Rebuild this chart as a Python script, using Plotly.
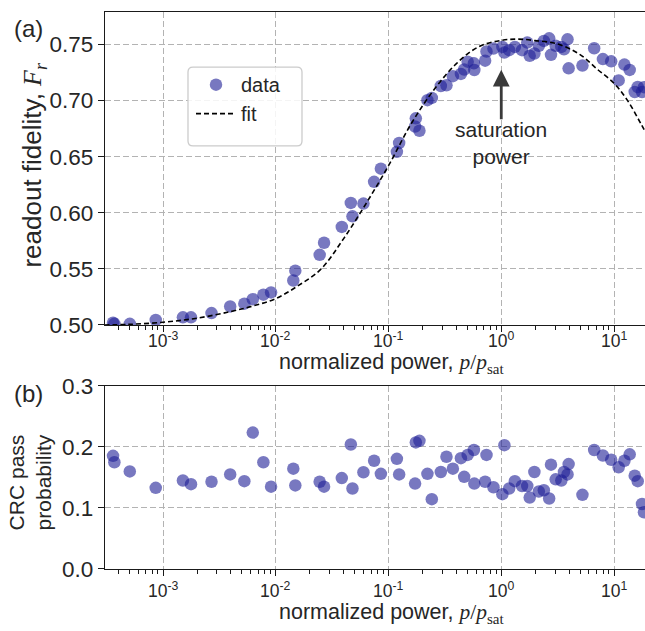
import math
import plotly.graph_objects as go

# ---- data ----
power = [3.60e-4, 3.70e-4, 5.07e-4, 8.61e-4, 1.50e-3, 1.77e-3, 2.69e-3, 3.94e-3,
         5.26e-3, 6.25e-3, 7.76e-3, 9.08e-3, 1.43e-2, 1.49e-2, 2.45e-2, 2.68e-2,
         3.85e-2, 4.63e-2, 4.79e-2, 5.99e-2, 7.45e-2, 8.55e-2, 0.1186, 0.1242,
         0.172, 0.1746, 0.188, 0.2213, 0.2421, 0.2911, 0.3266, 0.3722,
         0.4387, 0.469, 0.5035, 0.5715, 0.5768, 0.7194, 0.7396, 0.8531,
         1.023, 1.066, 1.175, 1.32, 1.528, 1.70, 1.787, 1.967,
         2.155, 2.387, 2.661, 2.761, 3.04, 3.41, 3.60, 3.87,
         3.96, 5.25, 6.67, 7.97, 9.44, 11.0, 12.37, 13.78,
         15.27, 16.23, 17.72, 18.45]

fidelity = [0.502, 0.501, 0.501, 0.5044, 0.5068, 0.5068, 0.5106, 0.5165,
            0.519, 0.523, 0.527, 0.529, 0.5396, 0.5484, 0.5625, 0.5733,
            0.5874, 0.6088, 0.5968, 0.6082, 0.6276, 0.6393, 0.6543, 0.6622,
            0.6769, 0.6842, 0.6731, 0.7004, 0.7024, 0.713, 0.7136, 0.7218,
            0.7238, 0.7277, 0.7347, 0.7332, 0.7273, 0.7356, 0.7438, 0.7464,
            0.7479, 0.7429, 0.745, 0.7479, 0.745, 0.7517, 0.740, 0.742,
            0.7488, 0.7532, 0.7555, 0.7408, 0.7488, 0.7479, 0.7458, 0.7546,
            0.7288, 0.7312, 0.7467, 0.737, 0.735, 0.718, 0.7321, 0.7274,
            0.7077, 0.7121, 0.7077, 0.712]

crc_pass = [0.1855, 0.175, 0.160, 0.133, 0.145, 0.139, 0.143, 0.155,
            0.144, 0.2236, 0.175, 0.135, 0.1645, 0.137, 0.143, 0.135,
            0.149, 0.204, 0.132, 0.1586, 0.1774, 0.156, 0.1806, 0.155,
            0.140, 0.2075, 0.210, 0.156, 0.1145, 0.159, 0.184, 0.1645,
            0.1817, 0.151, 0.187, 0.195, 0.140, 0.143, 0.187, 0.134,
            0.1226, 0.203, 0.132, 0.144, 0.136, 0.136, 0.117, 0.159,
            0.127, 0.129, 0.1155, 0.171, 0.147, 0.145, 0.159, 0.155,
            0.172, 0.1215, 0.195, 0.186, 0.179, 0.1667, 0.1774, 0.188,
            0.153, 0.144, 0.1065, 0.093]

fit_power = [3.0e-4, 5.0e-4, 1.0e-3, 2.0e-3, 4.0e-3, 6.3e-3, 1.0e-2, 1.58e-2,
             2.5e-2, 4.0e-2, 6.3e-2, 0.1, 0.158, 0.25, 0.4, 0.63,
             1.0, 1.41, 2.0, 3.16, 5.0, 7.1, 10.0, 13.2, 17.4, 22.0]
fit_fidelity = [0.5000, 0.5005, 0.5024, 0.5060, 0.5120, 0.5170, 0.5235, 0.5350,
                0.5495, 0.5770, 0.6080, 0.6420, 0.6790, 0.7090, 0.7330, 0.7480,
                0.7537, 0.7548, 0.7535, 0.7505, 0.7410, 0.7280, 0.7155, 0.7000,
                0.6790, 0.6600]

x_tick_vals = [1e-3, 1e-2, 1e-1, 1, 10]
x_tick_text = ["10<sup>-3</sup>", "10<sup>-2</sup>", "10<sup>-1</sup>",
               "10<sup>0</sup>", "10<sup>1</sup>"]
minor_vals = [m * 10.0 ** e for e in range(-4, 2) for m in range(2, 10)]

FONT = "Liberation Sans, Arial, sans-serif"
TXT = "#262626"
AX = "#1a1a1a"
GRID = "#b3b3b3"
MARK = "rgba(30,30,150,0.6)"

L, R, T, B = 105, 645, 3, 569  # plot area in pixels
PW, PH = R - L, B - T


def px2paper(px, py):
    return (px - L) / PW, (B - py) / PH


fig = go.Figure()
fig.add_trace(go.Scatter(x=power, y=fidelity, mode="markers", name="data",
                         marker=dict(size=12.5, color=MARK, line=dict(width=0)),
                         xaxis="x", yaxis="y"))
fig.add_trace(go.Scatter(x=fit_power, y=fit_fidelity, mode="lines", name="fit",
                         line=dict(color="black", width=1.6, dash="5px,3px", shape="spline"),
                         xaxis="x", yaxis="y"))
fig.add_trace(go.Scatter(x=power, y=crc_pass, mode="markers", showlegend=False,
                         marker=dict(size=12.5, color=MARK, line=dict(width=0)),
                         xaxis="x2", yaxis="y2"))


def xax(anchor):
    return dict(type="log", range=[-3.515, 1.275], domain=[0, 1], anchor=anchor,
                showline=True, linecolor=AX, linewidth=1.4, mirror=True,
                ticks="outside", ticklen=6, tickwidth=1.2, tickcolor=AX,
                tickvals=x_tick_vals, showticklabels=False,
                showgrid=True, gridcolor=GRID, gridwidth=1, griddash="6px,3px",
                zeroline=False,
                minor=dict(ticks="outside", ticklen=3.5, tickwidth=1, tickcolor=AX,
                           tickvals=minor_vals, showgrid=False))


def yax(domain, rng, dtick, fmt, anchor):
    return dict(domain=domain, range=rng, dtick=dtick, tick0=0, tickformat=fmt,
                anchor=anchor, showline=True, linecolor=AX, linewidth=1.4,
                ticks="outside", ticklen=6, tickwidth=1.2, tickcolor=AX,
                tickfont=dict(size=22.5, color=TXT, family=FONT),
                showgrid=True, gridcolor=GRID, gridwidth=1, griddash="6px,3px",
                zeroline=False)


ptxt = "<span style=\"font-family:'Liberation Serif'\"><i>p</i>/<i>p</i><sub>sat</sub></span>"
xlabel = "normalized power, " + ptxt

anns = []


def add_text(text, px, py, size, angle=0):
    xp, yp = px2paper(px, py)
    anns.append(dict(text=text, x=xp, y=yp, xref="paper", yref="paper", showarrow=False,
                     textangle=angle, font=dict(size=size, color=TXT, family=FONT),
                     xanchor="center", yanchor="middle"))


# x tick labels placed under the ticks of both panels
for xref, py in (("x", 336), ("x2", 590)):
    _, yp = px2paper(0, py)
    for v, t in zip(x_tick_vals, x_tick_text):
        anns.append(dict(text=t, x=math.log10(v), y=yp, xref=xref, yref="paper",
                         showarrow=False, font=dict(size=17.5, color=TXT, family=FONT),
                         xanchor="center", yanchor="middle"))

add_text("(a)", 28, 20, 24)
add_text("(b)", 28, 391, 24)
add_text(xlabel, 391, 360, 21.5)
add_text(xlabel, 391, 614, 21.5)
add_text("readout fidelity, <span style=\"font-family:'Liberation Serif'\"><i>F</i><sub><i>r</i></sub></span>",
         34, 158, 26, -90)
add_text("CRC pass<br>probability", 30, 481, 21, -90)

# saturation power annotation
anns.append(dict(text="saturation<br>power", x=0, y=0.6625, xref="x", yref="y", showarrow=False,
                 font=dict(size=21, color=TXT, family=FONT), xanchor="center", yanchor="middle"))
anns.append(dict(text="", x=0, y=0.7275, xref="x", yref="y", ax=0, ay=0.682, axref="x", ayref="y",
                 showarrow=True, arrowhead=2, arrowsize=1.2, arrowwidth=2.8, arrowcolor="#3a3a3a"))

# rounded legend frame (drawn as a shape; legend itself is transparent)
x0, y0 = px2paper(188, 139)
x1, y1 = px2paper(302, 59)
rx, ry = 5.0 / PW, 5.0 / PH
frame = (f"M {x0+rx},{y0} L {x1-rx},{y0} Q {x1},{y0} {x1},{y0+ry} "
         f"L {x1},{y1-ry} Q {x1},{y1} {x1-rx},{y1} L {x0+rx},{y1} Q {x0},{y1} {x0},{y1-ry} "
         f"L {x0},{y0+ry} Q {x0},{y0} {x0+rx},{y0} Z")
shapes = [dict(type="path", path=frame, xref="paper", yref="paper", layer="above",
               fillcolor="rgba(255,255,255,0.85)", line=dict(color="#cccccc", width=1.3))]

lx, ly = px2paper(191, 57)
fig.update_layout(
    width=645, height=631, autosize=False,
    margin=dict(l=L, r=645 - R, t=T, b=631 - B, pad=0),
    paper_bgcolor="white", plot_bgcolor="white",
    font=dict(family=FONT, color=TXT),
    xaxis=xax("y"),
    yaxis=yax([px2paper(0, 321)[1], 1], [0.5, 0.779], 0.05, ".2f", "x"),
    xaxis2=xax("y2"),
    yaxis2=yax([0, px2paper(0, 383)[1]], [0, 0.3], 0.1, ".1f", "x2"),
    showlegend=True,
    legend=dict(x=lx, y=ly, xanchor="left", yanchor="top",
                bgcolor="rgba(0,0,0,0)", borderwidth=0,
                font=dict(size=20, color=TXT, family=FONT), itemwidth=40,
                tracegroupgap=7),
    annotations=anns,
    shapes=shapes,
)

fig.write_html("out.html")
